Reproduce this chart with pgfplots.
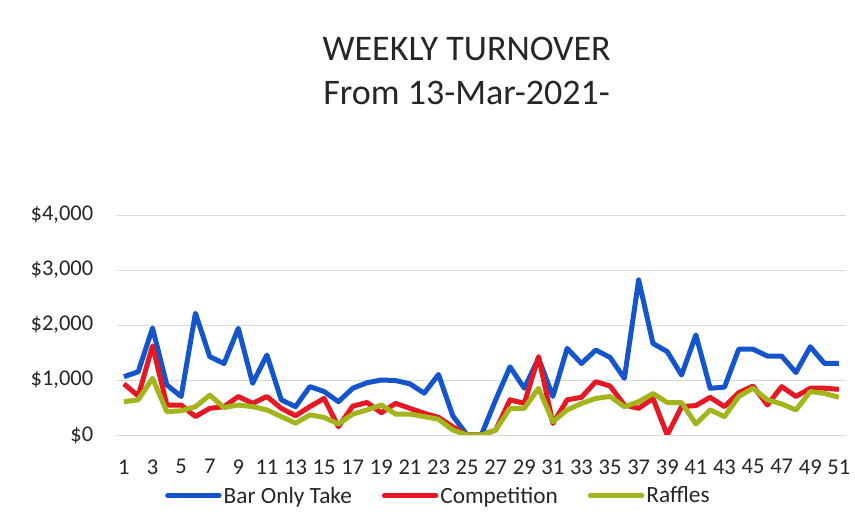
\documentclass[border=0pt]{standalone}
\usepackage{pgfplots}
\pgfplotsset{compat=1.18}
\usepackage{pgfplotstable}
\usepackage{fontspec}
\setmainfont{Carlito}
\definecolor{barblue}{RGB}{20,84,204}
\definecolor{compred}{RGB}{230,24,36}
\definecolor{raffgreen}{RGB}{164,180,28}
\newcommand{\tickfont}{\fontsize{22.5}{27}\selectfont}

\pgfplotstableread{
week bar comp raff
1 1060 930 605
2 1150 710 640
3 1945 1620 1030
4 910 545 425
5 700 545 440
6 2215 335 515
7 1425 485 725
8 1300 515 500
9 1940 700 545
10 940 575 515
11 1455 700 455
12 640 485 335
13 515 350 215
14 880 515 365
15 790 665 320
16 605 150 200
17 850 525 380
18 950 590 455
19 1000 405 545
20 990 575 380
21 930 485 380
22 760 395 335
23 1100 320 285
24 350 150 90
25 0 0 0
26 0 0 0
27 640 90 90
28 1240 640 485
29 850 575 485
30 1395 1425 850
31 700 210 240
32 1575 640 455
33 1300 685 575
34 1545 970 665
35 1410 890 700
36 1030 545 515
37 2820 485 605
38 1665 665 755
39 1515 0 590
40 1090 515 590
41 1820 535 200
42 850 685 455
43 870 515 335
44 1560 770 700
45 1560 890 850
46 1435 545 640
47 1435 880 565
48 1135 700 455
49 1605 850 790
50 1300 850 755
51 1300 830 685
}\turnover

\begin{document}
\begin{tikzpicture}
\path[use as bounding box] (-116.8pt,-97pt) rectangle (738.2pt,435pt);
\begin{axis}[
  at={(0pt,0pt)}, anchor=south west,
  scale only axis, width=729.2pt, height=220pt,
  xmin=0.5, xmax=51.5, ymin=0, ymax=4000,
  xtick={1,3,...,51}, ytick={0,1000,...,4000},
  ymajorgrids, grid style={gray!30, line width=0.8pt},
  axis line style={draw=none}, major tick length=0pt,
  /pgf/number format/assume math mode=true,
  yticklabel={\$\pgfmathprintnumber[fixed,precision=0,1000 sep={,}]{\tick}},
  yticklabel style={font=\tickfont, text=black!85, anchor=east, xshift=-20pt},
  xticklabel style={font=\tickfont, text=black!85, anchor=north, yshift=-21pt},
  legend style={at={(axis description cs:0.0661,-0.276)}, anchor=west,
    draw=none, fill=none, inner sep=0pt, legend columns=-1,
    font=\fontsize{23.3}{28}\selectfont, text=black!85,
    nodes={inner sep=2pt},
    /tikz/every even column/.append style={column sep=28pt}},
  legend image code/.code={\draw[line width=4.5pt, line cap=round] (2pt,0pt) -- (54pt,0pt);},
]
\addplot[barblue, line width=5pt, line join=round] table[x=week,y=bar]{\turnover};
\addlegendentry{Bar Only Take}
\addplot[compred, line width=5pt, line join=round] table[x=week,y=comp]{\turnover};
\addlegendentry{Competition}
\addplot[raffgreen, line width=5pt, line join=round] table[x=week,y=raff]{\turnover};
\addlegendentry{Raffles}
\end{axis}
\node[anchor=base, font=\fontsize{36}{43}\selectfont, text=black!85] at (349.9pt,374.3pt) {WEEKLY TURNOVER};
\node[anchor=base, font=\fontsize{36}{43}\selectfont, text=black!85] at (349.9pt,330pt) {From 13-Mar-2021-};
\end{tikzpicture}
\end{document}
